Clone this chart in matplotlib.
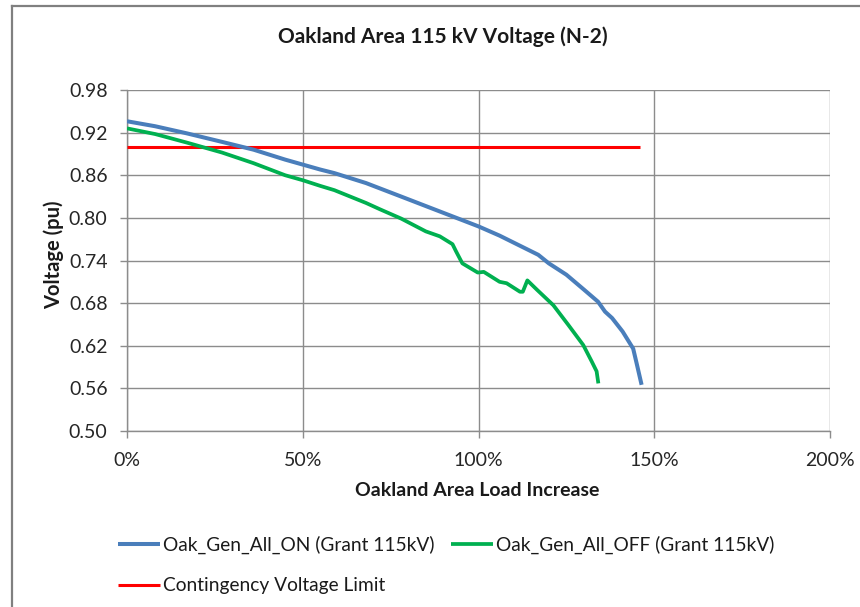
import numpy as np
import matplotlib
matplotlib.use("Agg")
import matplotlib.pyplot as plt
from matplotlib.lines import Line2D

plt.rcParams["font.family"] = ["Lato", "DejaVu Sans"]

# Grant 115 kV bus voltage vs Oakland area load increase (%)
load_on = [0, 8, 17, 27, 36, 45, 55, 59, 68, 78, 89, 100, 106, 117, 120, 125,
           130, 134, 136, 138, 141, 144, 145, 146.4]
volt_on = [0.936, 0.929, 0.919, 0.907, 0.896, 0.882, 0.868, 0.863, 0.849, 0.830,
           0.809, 0.788, 0.775, 0.748, 0.736, 0.720, 0.699, 0.682, 0.668, 0.659,
           0.640, 0.616, 0.595, 0.565]
load_off = [0, 8, 17, 27, 36, 45, 50, 55, 59, 68, 72, 78, 85, 89, 92.6, 93.6,
            95.4, 99.8, 101.5, 106, 108, 111.8, 112.6, 113.9, 116.6, 121.3, 125.6,
            129.8, 132.2, 133.6, 134.1]
volt_off = [0.926, 0.918, 0.906, 0.892, 0.877, 0.860, 0.853, 0.845, 0.839, 0.821,
            0.812, 0.799, 0.781, 0.774, 0.763, 0.753, 0.736, 0.723, 0.724, 0.710,
            0.708, 0.696, 0.696, 0.712, 0.699, 0.677, 0.649, 0.621, 0.598, 0.584,
            0.567]
limit_load = [0, 146]
limit_volt = [0.90, 0.90]

y_ticks = [0.50, 0.56, 0.62, 0.68, 0.74, 0.80, 0.86, 0.92, 0.98]
x_ticks = [0, 50, 100, 150, 200]

W, H = 860, 607
fig = plt.figure(figsize=(W / 100, H / 100), dpi=100)
ax = fig.add_axes([127 / W, 1 - 431 / H, 703 / W, 341 / H])

GRID = "#8c8c8c"
ax.plot(load_on, volt_on, color="#4A7EBB", lw=2.9, solid_capstyle="butt",
        label="Oak_Gen_All_ON (Grant 115kV)", zorder=4)
ax.plot(load_off, volt_off, color="#00B050", lw=2.7, solid_capstyle="butt",
        label="Oak_Gen_All_OFF (Grant 115kV)", zorder=4)
ax.plot(limit_load, limit_volt, color="#FF0000", lw=2.2, solid_capstyle="butt",
        label="Contingency Voltage Limit", zorder=3)

ax.set_xlim(0, 200); ax.set_ylim(0.50, 0.98)
ax.set_yticks(y_ticks); ax.set_xticks(x_ticks)
ax.set_yticklabels([f"{v:.2f}" for v in y_ticks])
ax.set_xticklabels([f"{v}%" for v in x_ticks])
ax.grid(True, color=GRID, lw=1.0)
ax.set_axisbelow(True)
for s in ("top", "right"):
    ax.spines[s].set_visible(False)
for s in ("left", "bottom"):
    ax.spines[s].set_color(GRID); ax.spines[s].set_linewidth(1.0)
ax.tick_params(axis="both", direction="out", length=5, width=1.0, color=GRID,
               labelsize=14, labelcolor="#262626")
ax.tick_params(axis="y", pad=9)
ax.tick_params(axis="x", pad=10)

fig.text(443 / W, 1 - 37 / H, "Oakland Area 115 kV Voltage (N-2)", ha="center", va="center",
         fontsize=15, fontweight="bold", color="#1a1a1a")
fig.text(477 / W, 1 - 490 / H, "Oakland Area Load Increase", ha="center", va="center",
         fontsize=14, fontweight="bold", color="#1a1a1a")
fig.text(54 / W, 1 - 255 / H, "Voltage (pu)", ha="center", va="center", rotation=90,
         fontsize=14.5, fontweight="bold", color="#1a1a1a")

h, l = ax.get_legend_handles_labels()
fig.legend([h[0], h[2], h[1]], [l[0], l[2], l[1]], ncol=2, loc="upper left",
           bbox_to_anchor=(118 / W, 1 - 536 / H), frameon=False, fontsize=13.8,
           handlelength=2.2, handletextpad=0.15, labelspacing=1.2, columnspacing=0.85,
           borderpad=0, borderaxespad=0, labelcolor="#1a1a1a")

# slide frame
fig.add_artist(Line2D([12 / W, 12 / W], [0, 1 - 6 / H], color="#808080", lw=1.6))
fig.add_artist(Line2D([12 / W, 1], [1 - 6 / H, 1 - 6 / H], color="#808080", lw=1.6))

fig.savefig("out.png", dpi=100)
